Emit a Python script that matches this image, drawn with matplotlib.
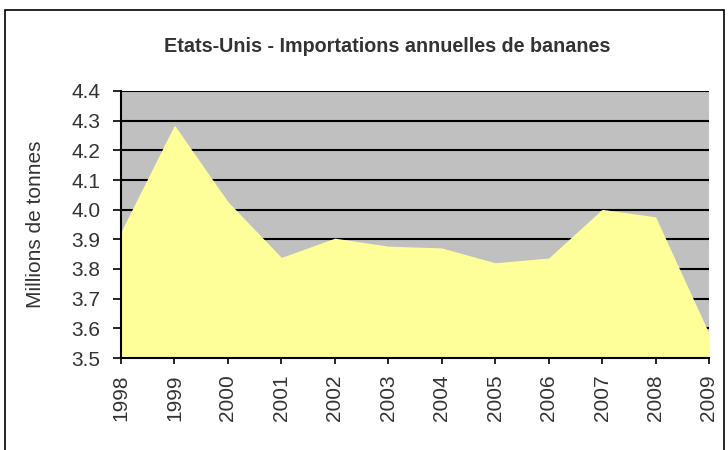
import matplotlib.pyplot as plt
from matplotlib.patches import Rectangle

years = [1998, 1999, 2000, 2001, 2002, 2003, 2004, 2005, 2006, 2007, 2008, 2009]
imports = [3.926, 4.285, 4.027, 3.839, 3.904, 3.877, 3.871, 3.821, 3.837, 4.001, 3.976, 3.583]
yticks = [3.5, 3.6, 3.7, 3.8, 3.9, 4.0, 4.1, 4.2, 4.3, 4.4]

plt.rcParams['font.family'] = ['Liberation Sans', 'DejaVu Sans']
txt = '#333333'

fig = plt.figure(figsize=(7.28, 4.5), dpi=100)
ax = fig.add_axes([121 / 728, 1 - 358 / 450, 588 / 728, 267 / 450])

# outer chart border
fig.patches.append(Rectangle((5 / 728, -0.05), 719 / 728, 1.05 - 10 / 450,
                             transform=fig.transFigure, fill=False,
                             edgecolor='black', linewidth=1.2))

ax.set_facecolor('#C0C0C0')
ax.fill_between(years, 3.5, imports, color='#FFFF99', linewidth=0, zorder=2)

ax.set_xlim(years[0], years[-1])
ax.set_ylim(3.5, 4.4)
ax.set_yticks(yticks)
ax.set_yticklabels([f"{v:.1f}" for v in yticks], fontsize=15, color=txt)
ax.set_xticks(years)
ax.set_xticklabels([str(y) for y in years], rotation=90, fontsize=15, color=txt)

for v in yticks[1:]:
    ax.axhline(v, color='black', linewidth=1.5, zorder=1)

for s in ['top', 'right']:
    ax.spines[s].set_visible(False)
for s in ['left', 'bottom']:
    ax.spines[s].set_linewidth(1.5)
    ax.spines[s].set_zorder(3)
ax.tick_params(axis='y', direction='out', length=6, width=1.2, pad=9)
ax.tick_params(axis='x', direction='out', length=4, width=1.2, pad=8)

fig.text(36 / 728, 1 - 224 / 450, "Millions de tonnes", rotation=90,
         ha='center', va='center', fontsize=15, color=txt)
fig.text(387 / 728, 1 - 47 / 450, "Etats-Unis - Importations annuelles de bananes",
         ha='center', va='center', fontsize=14.2, fontweight='bold', color=txt)

fig.savefig("out.png", dpi=100)
